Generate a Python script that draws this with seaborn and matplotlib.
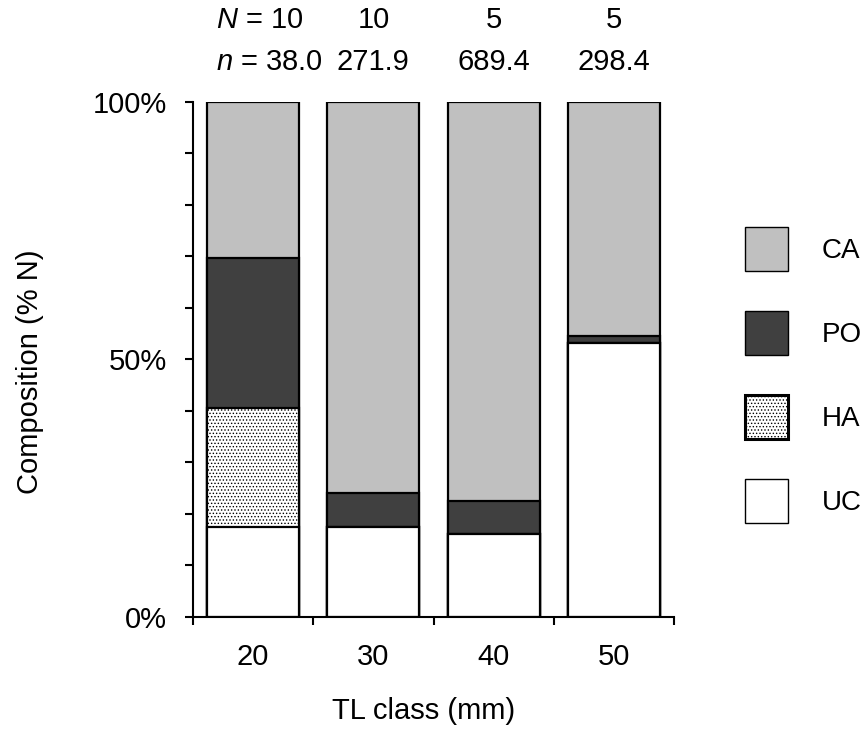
import numpy as np
import pandas as pd
import matplotlib
matplotlib.use('Agg')
import matplotlib.pyplot as plt
import seaborn as sns
from matplotlib.patches import Patch
from matplotlib.ticker import MultipleLocator, FixedLocator, PercentFormatter

# ---- data ----
classes = ['20', '30', '40', '50']
uc = [17.3, 17.3, 16.1, 53.1]
ha = [23.3, 0.0, 0.0, 0.0]
po = [29.0, 6.8, 6.3, 1.4]
ca = [30.4, 75.9, 77.6, 45.5]
N_fish = ['10', '10', '5', '5']
n_prey = ['38.0', '271.9', '689.4', '298.4']
components = ['CA', 'PO', 'HA', 'UC']

sns.set_style('ticks')
plt.rcParams['font.family'] = ['Liberation Sans', 'DejaVu Sans']
plt.rcParams['mathtext.fontset'] = 'custom'
plt.rcParams['mathtext.it'] = 'Liberation Sans:italic'
plt.rcParams['mathtext.rm'] = 'Liberation Sans'
plt.rcParams['hatch.linewidth'] = 0.6
for k in ['text.color', 'axes.labelcolor', 'xtick.color', 'ytick.color', 'axes.edgecolor']:
    plt.rcParams[k] = 'black'

FS = 21
fig = plt.figure(figsize=(8.63, 7.35), dpi=100)
ax = fig.add_axes([193 / 863, 1 - 616.5 / 735, (674 - 193) / 863, (616.5 - 102) / 735])

cum_uc = np.array(uc)
cum_ha = cum_uc + np.array(ha)
cum_po = cum_ha + np.array(po)
cum_ca = cum_po + np.array(ca)
df = pd.DataFrame({'TL': classes, 'CA': cum_ca, 'PO': cum_po, 'HA': cum_ha, 'UC': cum_uc})

styles = {
    'CA': dict(color='#c0c0c0'),
    'PO': dict(color='#404040'),
    'HA': dict(color='white', hatch='.....'),
    'UC': dict(color='white'),
}
for comp in components:
    sns.barplot(data=df, x='TL', y=comp, ax=ax, width=0.765, saturation=1,
                edgecolor='black', linewidth=1.6, **styles[comp])

ax.set_xlim(-0.5, 3.5)
ax.set_ylim(0, 100)
ax.yaxis.set_major_locator(FixedLocator([0, 50, 100]))
ax.yaxis.set_major_formatter(PercentFormatter(decimals=0))
ax.yaxis.set_minor_locator(MultipleLocator(10))
ax.xaxis.set_minor_locator(FixedLocator(np.arange(-0.5, 4, 1)))
ax.tick_params(axis='x', which='major', length=0, pad=19, labelsize=FS)
ax.tick_params(axis='x', which='minor', length=6, width=1.5, direction='out', color='black')
ax.tick_params(axis='y', which='both', length=6, width=1.5, direction='out', color='black')
ax.tick_params(axis='y', which='major', labelsize=FS, pad=13)
for s in ['top', 'right']:
    ax.spines[s].set_visible(False)
for s in ['left', 'bottom']:
    ax.spines[s].set_linewidth(1.5)
    ax.spines[s].set_color('black')

ax.set_xlabel('TL class (mm)', fontsize=FS)
ax.set_ylabel('Composition (% N)', fontsize=FS)
ax.xaxis.set_label_coords(0.479, -0.156)
ax.yaxis.set_label_coords(-0.31, 0.475)

trans = ax.get_xaxis_transform()
for i, (Nv, nv) in enumerate(zip(N_fish, n_prey)):
    if i == 0:
        ax.text(-0.31, 1.16, f'$N$ = {Nv}', transform=trans, ha='left', va='center', fontsize=FS)
        ax.text(-0.31, 1.078, f'$n$ = {nv}', transform=trans, ha='left', va='center', fontsize=FS)
    else:
        ax.text(i, 1.16, Nv, transform=trans, ha='center', va='center', fontsize=FS)
        ax.text(i, 1.078, nv, transform=trans, ha='center', va='center', fontsize=FS)

handles = [
    Patch(facecolor='#c0c0c0', edgecolor='black', linewidth=1.0),
    Patch(facecolor='#404040', edgecolor='black', linewidth=1.0),
    Patch(facecolor='white', edgecolor='black', hatch='.....', linewidth=2.2),
    Patch(facecolor='white', edgecolor='black', linewidth=1.0),
]
fig.legend(handles, components, loc='upper left', bbox_to_anchor=(745 / 863, 1 - 227 / 735),
           frameon=False, fontsize=20, handlelength=1.55, handleheight=2.05,
           labelspacing=1.45, handletextpad=1.2, borderpad=0, borderaxespad=0)

fig.savefig('out.png', dpi=100)
